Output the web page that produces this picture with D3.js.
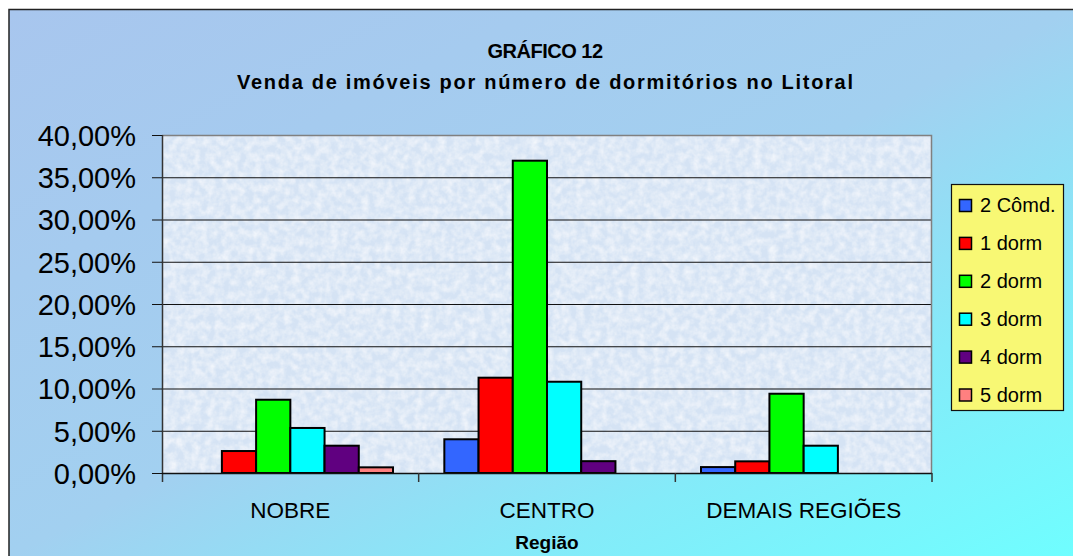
<!DOCTYPE html>
<html>
<head>
<meta charset="utf-8">
<script src="https://cdn.jsdelivr.net/npm/d3@7"></script>
<style>
  body { margin: 0; background: #fff; }
  svg { display: block; font-family: "Liberation Sans", Arial, sans-serif; }
</style>
</head>
<body>
<div id="chart"></div>
<script>
// data
var regions = ["NOBRE", "CENTRO", "DEMAIS REGIÕES"];
var series = ["2 Cômd.", "1 dorm", "2 dorm", "3 dorm", "4 dorm", "5 dorm"];
var colors = ["#3366ff", "#ff0000", "#00ff00", "#00ffff", "#600080", "#ff8080"];
// one array per region, same order as series
var nobre = [0, 0.026, 0.0867, 0.0533, 0.0323, 0.0067];
var centro = [0.0399, 0.1128, 0.3696, 0.108, 0.014, 0];
var demais = [0.007, 0.0138, 0.0938, 0.0323, 0, 0];
var yTicks = [0, 0.05, 0.10, 0.15, 0.20, 0.25, 0.30, 0.35, 0.40];

var values = [nobre, centro, demais];

var width = 1073, height = 556;
var plot = { left: 162, top: 135, right: 932, bottom: 473 };

var svg = d3.select("#chart").append("svg")
  .attr("width", width).attr("height", height);

var defs = svg.append("defs");

// background gradient, light blue to cyan toward bottom right
var grad = defs.append("linearGradient").attr("id", "bg")
  .attr("x1", 0).attr("y1", 0).attr("x2", 1).attr("y2", 1);
grad.append("stop").attr("offset", "0").attr("stop-color", "#a8c6ee");
grad.append("stop").attr("offset", "0.5").attr("stop-color", "#a2d0f0");
grad.append("stop").attr("offset", "0.75").attr("stop-color", "#84ebf9");
grad.append("stop").attr("offset", "1").attr("stop-color", "#6ffeff");

// paper-like texture for the plot area
var filt = defs.append("filter").attr("id", "tex")
  .attr("x", 0).attr("y", 0).attr("width", 1).attr("height", 1);
filt.append("feTurbulence").attr("type", "fractalNoise")
  .attr("baseFrequency", "0.13").attr("numOctaves", 3).attr("seed", 4).attr("result", "n");
filt.append("feColorMatrix").attr("in", "n").attr("type", "matrix")
  .attr("values", "0 0 0 0 1  0 0 0 0 1  0 0 0 0 1  0 0 0 1.1 -0.35").attr("result", "w");
var merge = filt.append("feMerge");
merge.append("feMergeNode").attr("in", "SourceGraphic");
merge.append("feMergeNode").attr("in", "w");

// chart area with border on top and left
svg.append("rect").attr("x", 9).attr("y", 9)
  .attr("width", width - 9).attr("height", height - 9)
  .attr("fill", "url(#bg)");
svg.append("path").attr("d", "M9," + height + "V9.5H" + width)
  .attr("fill", "none").attr("stroke", "#222").attr("stroke-width", 1.5);

// title
svg.append("text").attr("x", 545).attr("y", 58)
  .attr("text-anchor", "middle").attr("font-weight", "bold")
  .attr("font-size", 20).attr("letter-spacing", -0.5)
  .text("GRÁFICO 12");
svg.append("text").attr("x", 545).attr("y", 89)
  .attr("text-anchor", "middle").attr("font-weight", "bold")
  .attr("font-size", 20).attr("textLength", 616).attr("lengthAdjust", "spacing")
  .text("Venda de imóveis por número de dormitórios no Litoral");

// scales
var x0 = d3.scaleBand().domain(regions).range([plot.left, plot.right])
  .paddingInner(0).paddingOuter(0);
var x1 = d3.scaleBand().domain(series).range([0, x0.bandwidth()])
  .paddingInner(0).paddingOuter(0.75);
var y = d3.scaleLinear().domain([0, 0.4]).range([plot.bottom, plot.top]);

var pt = d3.formatLocale({ decimal: ",", thousands: ".", grouping: [3], currency: ["", ""] });
var fmt = pt.format(".2%");

// plot background
svg.append("rect").attr("x", plot.left).attr("y", plot.top)
  .attr("width", plot.right - plot.left).attr("height", plot.bottom - plot.top)
  .attr("fill", "#d5e3f4").attr("filter", "url(#tex)");

// gridlines
svg.append("g").selectAll("line").data(yTicks.filter(function(t) { return t > 0 && t < 0.4; }))
  .join("line")
  .attr("x1", plot.left).attr("x2", plot.right)
  .attr("y1", function(d) { return y(d) + 0.5; }).attr("y2", function(d) { return y(d) + 0.5; })
  .attr("stroke", "#111").attr("stroke-width", 1.2);

// top and right border of plot
svg.append("path")
  .attr("d", "M" + plot.left + "," + (plot.top + 0.5) + "H" + (plot.right - 0.5) + "V" + plot.bottom)
  .attr("fill", "none").attr("stroke", "#808080").attr("stroke-width", 1.5);

// bars
var groups = svg.append("g").selectAll("g").data(regions).join("g")
  .attr("transform", function(d) { return "translate(" + x0(d) + ",0)"; });

groups.selectAll("rect")
  .data(function(d, i) {
    return series.map(function(s, j) { return { s: s, v: values[i][j], c: colors[j] }; })
      .filter(function(b) { return b.v > 0; });
  })
  .join("rect")
  .attr("x", function(d) { return x1(d.s); })
  .attr("y", function(d) { return y(d.v); })
  .attr("width", x1.bandwidth())
  .attr("height", function(d) { return y(0) - y(d.v); })
  .attr("fill", function(d) { return d.c; })
  .attr("stroke", "#000").attr("stroke-width", 2);

// y axis
var yAxis = d3.axisLeft(y).tickValues(yTicks).tickFormat(fmt).tickSize(10).tickPadding(16);
var gy = svg.append("g").attr("transform", "translate(" + plot.left + ",0)").call(yAxis);
gy.select(".domain").attr("d", "M0.5," + plot.top + "V" + (plot.bottom + 9))
  .attr("stroke", "#333").attr("stroke-width", 1.5);
gy.selectAll(".tick line").attr("stroke", "#111");
gy.selectAll(".tick text").attr("font-size", 29).attr("fill", "#000")
  .attr("font-family", "Liberation Sans, Arial, sans-serif").attr("dy", "0.36em");

// x axis
var xAxis = d3.axisBottom(x0).tickSize(0).tickPadding(0);
var gx = svg.append("g").attr("transform", "translate(0," + plot.bottom + ")").call(xAxis);
gx.select(".domain").attr("d", "M" + plot.left + ",0.5H" + plot.right)
  .attr("stroke", "#111").attr("stroke-width", 1.5);
gx.selectAll(".tick text").attr("font-size", 22.5).attr("fill", "#000")
  .attr("font-family", "Liberation Sans, Arial, sans-serif").attr("y", 45).attr("dy", 0);
// category boundary ticks
gx.append("g").selectAll("line").data(regions.slice(1).concat([null])).join("line")
  .attr("x1", function(d) { return d ? x0(d) : plot.right; })
  .attr("x2", function(d) { return d ? x0(d) : plot.right; })
  .attr("y1", 0).attr("y2", 9)
  .attr("stroke", "#333").attr("stroke-width", 1.5);

svg.append("text").attr("x", 547).attr("y", 549)
  .attr("text-anchor", "middle").attr("font-weight", "bold").attr("font-size", 19)
  .text("Região");

// legend
var legend = svg.append("g");
legend.append("rect").attr("x", 951.5).attr("y", 184.5)
  .attr("width", 112).attr("height", 226)
  .attr("fill", "#f8f874").attr("stroke", "#111").attr("stroke-width", 1.2);

var items = legend.selectAll("g.item").data(series).join("g").attr("class", "item")
  .attr("transform", function(d, i) { return "translate(0," + (212 + i * 37.9) + ")"; });
items.append("rect").attr("x", 959.5).attr("y", -12.5).attr("width", 12).attr("height", 12)
  .attr("fill", function(d, i) { return colors[i]; })
  .attr("stroke", "#000").attr("stroke-width", 1.5);
items.append("text").attr("x", 980).attr("y", 0).attr("font-size", 20)
  .text(function(d) { return d; });
</script>
</body>
</html>
